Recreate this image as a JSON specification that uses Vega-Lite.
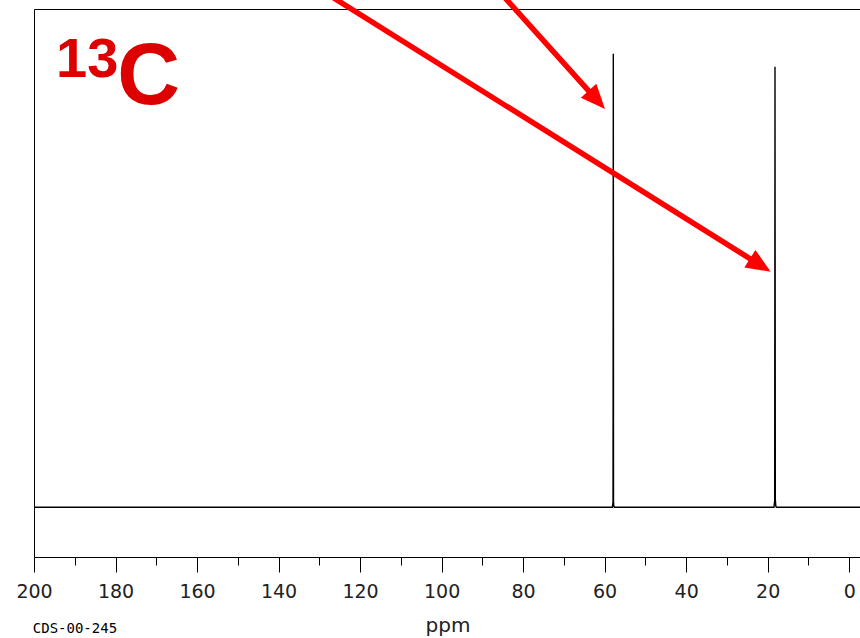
{
  "$schema": "https://vega.github.io/schema/vega-lite/v6.json",
  "width": 827,
  "height": 548,
  "autosize": {"type": "none"},
  "padding": {"left": 34, "top": 9, "right": 0, "bottom": 81},
  "background": "white",
  "datasets": {
    "spectrum": [
      {"ppm": -2.9, "intensity": 0},
      {"ppm": 17.85, "intensity": 0},
      {"ppm": 18.0, "intensity": 0.2},
      {"ppm": 18.12, "intensity": 1.6},
      {"ppm": 18.2, "intensity": 88.4},
      {"ppm": 18.28, "intensity": 1.3},
      {"ppm": 18.45, "intensity": 0},
      {"ppm": 57.6, "intensity": 0},
      {"ppm": 57.75, "intensity": 0.2},
      {"ppm": 57.82, "intensity": 1.2},
      {"ppm": 57.87, "intensity": 91.0},
      {"ppm": 57.94, "intensity": 1.0},
      {"ppm": 58.1, "intensity": 0},
      {"ppm": 200, "intensity": 0}
    ],
    "arrows": [
      {"id": "a", "x1": 127.6, "y1": 102.8, "x2": 22.37, "y2": 48.87, "tipx": 19.26, "tipy": 47.27, "dir": 122},
      {"id": "b", "x1": 85.06, "y1": 102.8, "x2": 62.37, "y2": 82.17, "tipx": 59.91, "tipy": 79.92, "dir": 138}
    ],
    "sup": [{"x": 194.6, "y": 86.4, "label": "13"}],
    "big": [{"x": 179.6, "y": 80.9, "label": "C"}],
    "code": [{"x": 200.3, "y": -25.2, "label": "CDS-00-245"}]
  },
  "layer": [
    {
      "data": {"name": "spectrum"},
      "mark": {"type": "line", "color": "#000000", "strokeWidth": 1.4, "interpolate": "linear"},
      "encoding": {
        "x": {
          "field": "ppm", "type": "quantitative",
          "scale": {"domain": [-2.9, 200], "reverse": true, "nice": false, "zero": false},
          "axis": {
            "title": "ppm",
            "values": [0, 10, 20, 30, 40, 50, 60, 70, 80, 90, 100, 110, 120, 130, 140, 150, 160, 170, 180, 190, 200],
            "labelExpr": "datum.value % 20 === 0 ? datum.label : ''",
            "tickSize": {"condition": {"test": "datum.value % 20 === 0", "value": 15}, "value": 8},
            "labelPadding": 10,
            "grid": false,
            "labelFlush": false,
            "labelOverlap": false
          }
        },
        "y": {
          "field": "intensity", "type": "quantitative",
          "scale": {"domain": [-10, 100], "nice": false, "zero": false},
          "axis": null
        }
      }
    },
    {
      "data": {"name": "arrows"},
      "mark": {"type": "rule", "color": "#ff0000", "strokeWidth": 5.5, "strokeCap": "butt"},
      "encoding": {
        "x": {"field": "x1", "type": "quantitative", "title": "ppm"},
        "x2": {"field": "x2"},
        "y": {"field": "y1", "type": "quantitative", "axis": null},
        "y2": {"field": "y2"}
      }
    },
    {
      "data": {"name": "arrows"},
      "mark": {"type": "point", "shape": "M0,0L-0.85,2L0.85,2Z", "filled": true, "color": "#ff0000", "opacity": 1, "size": 600, "strokeWidth": 0},
      "encoding": {
        "x": {"field": "tipx", "type": "quantitative", "title": "ppm"},
        "y": {"field": "tipy", "type": "quantitative", "axis": null},
        "angle": {"field": "dir", "type": "quantitative", "scale": null}
      }
    },
    {
      "data": {"name": "sup"},
      "mark": {"type": "text", "font": "Liberation Sans", "fontWeight": "bold", "fontSize": 56, "color": "#dd0000", "align": "left", "baseline": "alphabetic"},
      "encoding": {
        "x": {"field": "x", "type": "quantitative", "title": "ppm"},
        "y": {"field": "y", "type": "quantitative", "axis": null},
        "text": {"field": "label"}
      }
    },
    {
      "data": {"name": "big"},
      "mark": {"type": "text", "font": "Liberation Sans", "fontWeight": "bold", "fontSize": 87, "color": "#dd0000", "align": "left", "baseline": "alphabetic"},
      "encoding": {
        "x": {"field": "x", "type": "quantitative", "title": "ppm"},
        "y": {"field": "y", "type": "quantitative", "axis": null},
        "text": {"field": "label"}
      }
    },
    {
      "data": {"name": "code"},
      "mark": {"type": "text", "font": "DejaVu Sans Mono", "fontSize": 14, "color": "#000000", "align": "left", "baseline": "alphabetic"},
      "encoding": {
        "x": {"field": "x", "type": "quantitative", "title": "ppm"},
        "y": {"field": "y", "type": "quantitative", "axis": null},
        "text": {"field": "label"}
      }
    }
  ],
  "config": {
    "view": {"stroke": "#000000", "strokeWidth": 1},
    "axis": {
      "domainColor": "#000000",
      "domainWidth": 1,
      "tickColor": "#000000",
      "tickWidth": 1,
      "labelColor": "#222222",
      "labelFont": "DejaVu Sans",
      "labelFontSize": 19,
      "titleFont": "DejaVu Sans",
      "titleFontSize": 20,
      "titleFontWeight": "normal",
      "titleColor": "#222222",
      "titlePadding": 14
    }
  }
}
